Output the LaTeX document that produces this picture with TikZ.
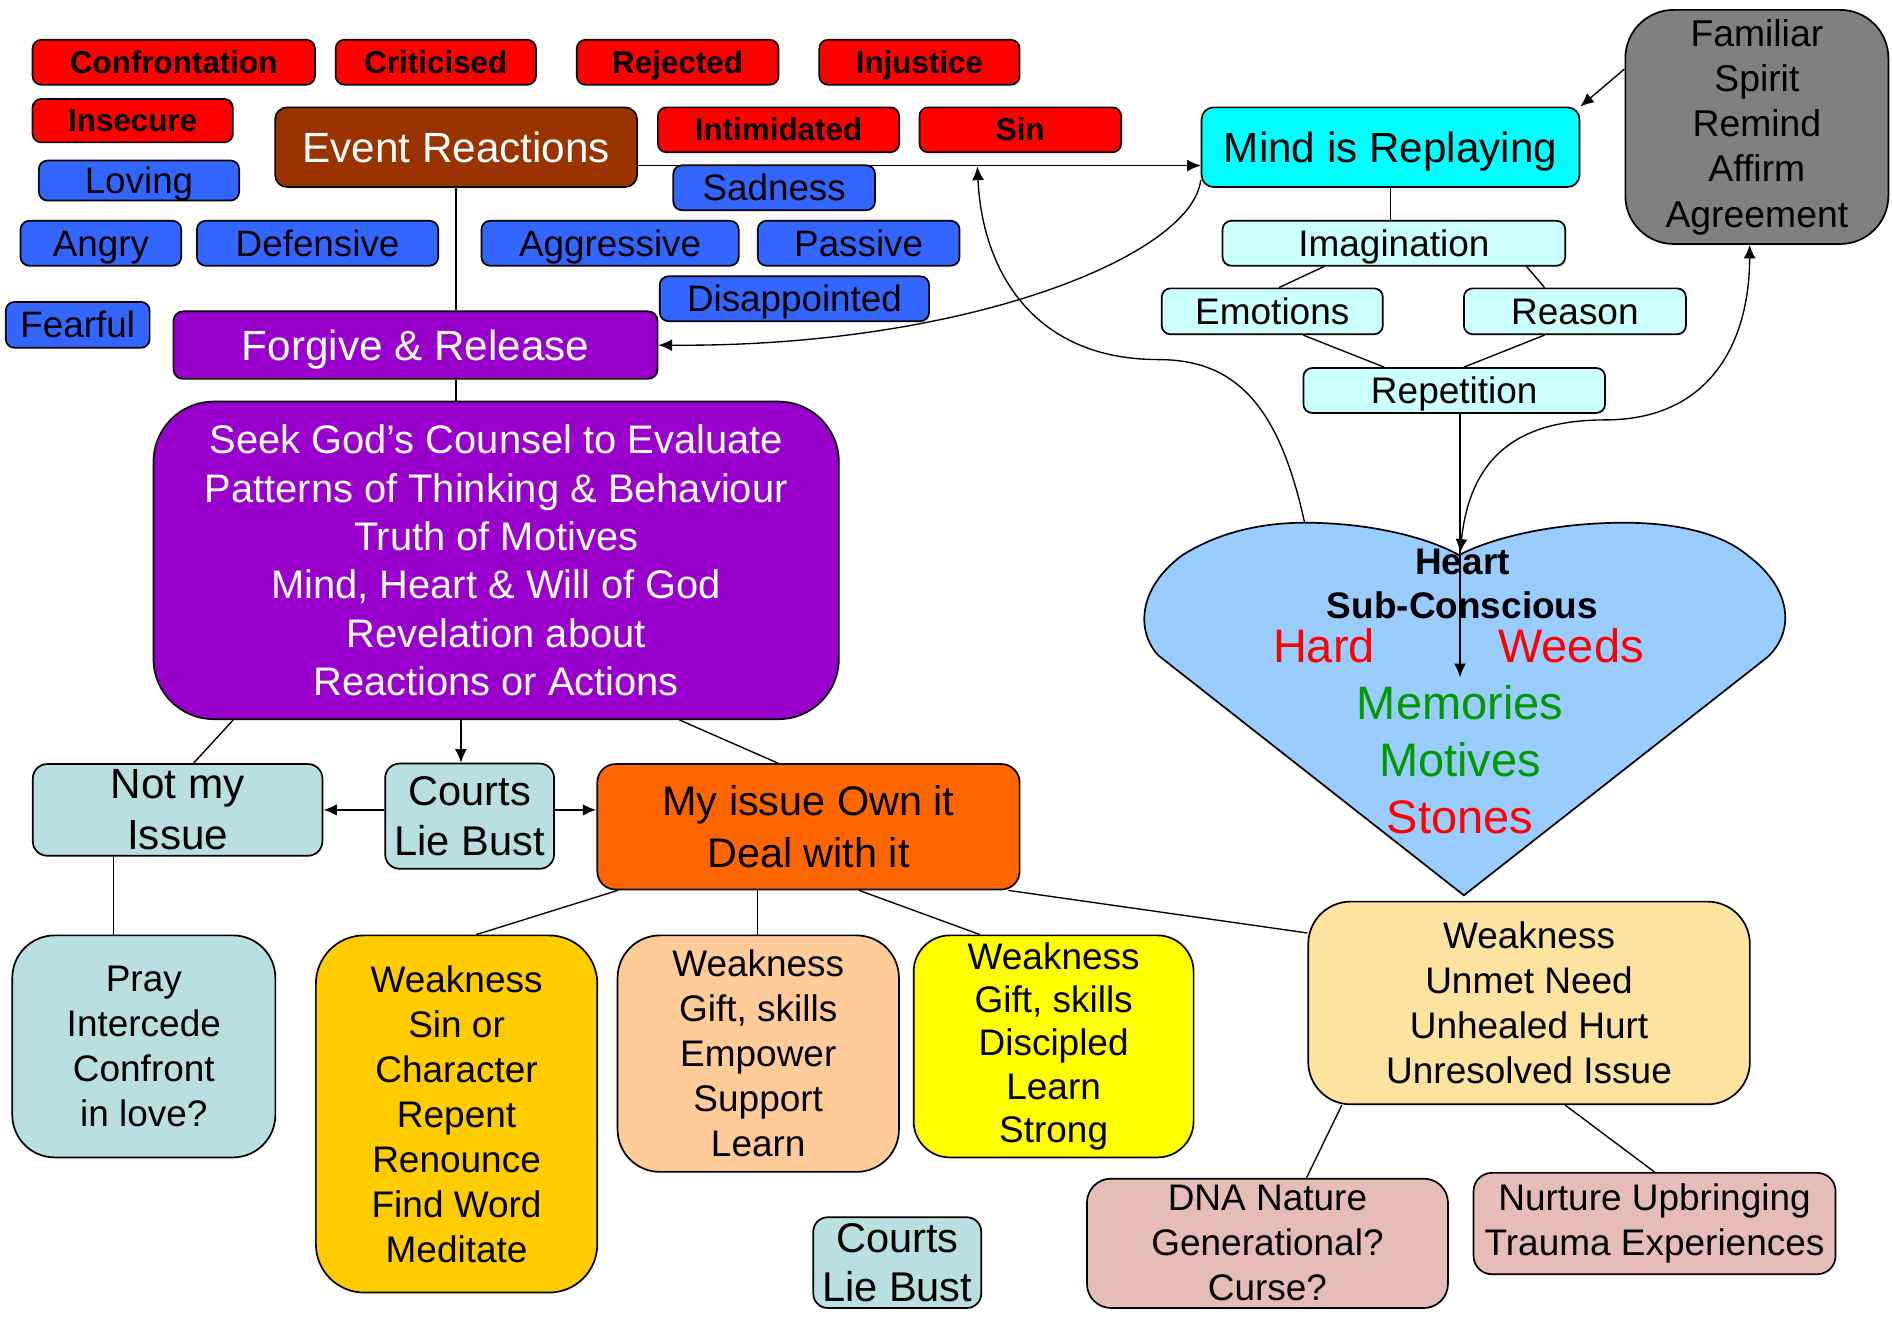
\documentclass[tikz,border=0pt]{standalone}
\usepackage{fontspec}
\setmainfont{Liberation Sans}
\usetikzlibrary{arrows.meta}
\definecolor{hurtred}{HTML}{FF0000}
\definecolor{moodblue}{HTML}{3366FF}
\definecolor{eventbrown}{HTML}{993300}
\definecolor{godpurple}{HTML}{9900CC}
\definecolor{mindcyan}{HTML}{00FFFF}
\definecolor{thoughtcyan}{HTML}{CCFFFF}
\definecolor{spiritgray}{HTML}{808080}
\definecolor{paleteal}{HTML}{B9DFE3}
\definecolor{ownorange}{HTML}{FF6600}
\definecolor{singold}{HTML}{FFCC00}
\definecolor{giftpeach}{HTML}{FFCC99}
\definecolor{strongyellow}{HTML}{FFFF00}
\definecolor{needtan}{HTML}{FCE3A0}
\definecolor{rootrose}{HTML}{E6BDB6}
\definecolor{heartblue}{HTML}{99CCFF}
\definecolor{growgreen}{HTML}{009900}

\begin{document}
\begin{tikzpicture}[>={Latex[length=8pt, width=7pt]}, line width=0.8pt,
            tag/.style ={draw, line width=1pt, rounded corners=0.18cm, inner sep=0pt, minimum height=0.93cm,
                         text height=19pt, text depth=3.5pt},
            hurt/.style ={tag, fill=hurtred, text height=16pt, text depth=3pt, font=\bfseries\fontsize{18.5}{22}\selectfont},
            mood/.style ={tag, fill=moodblue, font=\fontsize{21.7}{26}\selectfont},
            thought/.style ={tag, fill=thoughtcyan, font=\fontsize{21.8}{26}\selectfont},
            head/.style ={draw, line width=1pt, rounded corners=0.25cm, text=white, text height=22pt, text depth=4pt,
                          font=\fontsize{24.9}{30}\selectfont},
            card/.style ={draw, line width=1pt, align=center, inner sep=1pt},
            weak/.style ={card, font=\fontsize{21.8}{26.5}\selectfont}]

        \useasboundingbox (0,0) rectangle (39.2,-27.275);

        %%--------------------------reacciones-------------
        \node[hurt, minimum width=5.85cm] (confront) at (3.60, -1.29) {Confrontation};
        \node[hurt, minimum width=4.15cm] (critic) at (9.03, -1.29) {Criticised};
        \node[hurt, minimum width=4.18cm] (reject) at (14.04, -1.29) {Rejected};
        \node[hurt, minimum width=4.15cm] (injustice) at (19.05, -1.29) {Injustice};
        \node[hurt, minimum width=4.15cm, minimum height=0.9cm] (insecure) at (2.75, -2.50) {Insecure};
        \node[hurt, minimum width=5.0cm] (intimid) at (16.13, -2.69) {Intimidated};
        \node[hurt, minimum width=4.18cm] (sin) at (21.14, -2.69) {Sin};

        \node[mood, minimum width=4.15cm, minimum height=0.83cm] (loving) at (2.88, -3.74) {Loving};
        \node[mood, minimum width=4.18cm] (sadness) at (16.04, -3.89) {Sadness};
        \node[mood, minimum width=3.33cm] (angry) at (2.09, -5.04) {Angry};
        \node[mood, minimum width=5.0cm] (defensive) at (6.58, -5.04) {Defensive};
        \node[mood, minimum width=5.33cm] (aggressive) at (12.64, -5.04) {Aggressive};
        \node[mood, minimum width=4.18cm] (passive) at (17.79, -5.04) {Passive};
        \node[mood, minimum width=5.58cm] (disappoint) at (16.46, -6.19) {Disappointed};
        \node[mood, minimum width=2.98cm, minimum height=0.95cm] (fearful) at (1.61, -6.73) {Fearful};

        \node[head, fill=eventbrown, minimum width=7.5cm, minimum height=1.65cm] (event) at (9.45, -3.05) {Event Reactions};
        \node[head, fill=godpurple, rounded corners=0.2cm, minimum width=10.03cm, minimum height=1.4cm] (forgive) at (8.61, -7.15) {Forgive \& Release};

        %%--------------------------mente-------------
        \node[head, fill=mindcyan, text=black, minimum width=7.83cm, minimum height=1.65cm] (mind) at (28.81, -3.05) {Mind is Replaying};
        \node[card, fill=spiritgray, rounded corners=1cm, minimum width=5.45cm, minimum height=4.85cm,
              font=\fontsize{22}{26.7}\selectfont] (spirit) at (36.40, -2.63) {Familiar\\Spirit\\Remind\\Affirm\\Agreement};
        \node[thought, minimum width=7.1cm] (imag) at (28.88, -5.04) {Imagination};
        \node[thought, minimum width=4.58cm, minimum height=0.95cm] (emotions) at (26.36, -6.45) {Emotions};
        \node[thought, minimum width=4.6cm, minimum height=0.95cm] (reason) at (32.63, -6.45) {Reason};
        \node[thought, minimum width=6.25cm] (repetition) at (30.13, -8.09) {Repetition};

        %%--------------------------corazon-------------
        \path[draw, fill=heartblue, line width=1pt] (30.33, -18.55) -- (24.0, -13.58)
            .. controls (23.55, -13.1) and (23.55, -12.2) .. (24.5, -11.5)
            .. controls (25.3, -11.0) and (26.2, -10.83) .. (27.03, -10.83)
            .. controls (28.3, -10.83) and (29.5, -11.1) .. (30.23, -11.5)
            .. controls (31.0, -11.1) and (32.3, -10.83) .. (33.65, -10.83)
            .. controls (34.6, -10.83) and (35.6, -11.0) .. (36.2, -11.5)
            .. controls (37.2, -12.25) and (37.15, -13.15) .. (36.6, -13.63) -- cycle;
        \coordinate (hearttop) at (30.25, -11.45);
        \coordinate (heartlobe) at (27.03, -10.83);
        \coordinate (heartmid) at (30.25, -14.03);
        \coordinate (linehit) at (20.25, -3.45);

        \node[align=center, inner sep=0pt, font=\bfseries\fontsize{21.8}{26.3}\selectfont] (heart) at (30.30, -12.10) {Heart\\Sub-Conscious};
        \node[inner sep=0pt, text=hurtred, font=\fontsize{27.7}{33.4}\selectfont] (hard) at (27.43, -13.38) {Hard};
        \node[inner sep=0pt, text=hurtred, font=\fontsize{27.7}{33.4}\selectfont] (weeds) at (32.55, -13.38) {Weeds};
        \node[align=center, inner sep=0pt, font=\fontsize{27.7}{33.4}\selectfont] (memories) at (30.25, -15.74)
            {\textcolor{growgreen}{Memories}\\\textcolor{growgreen}{Motives}\\\textcolor{hurtred}{Stones}};

        %%--------------------------evaluar-------------
        \node[card, fill=godpurple, text=white, rounded corners=1.25cm, minimum width=14.2cm, minimum height=6.58cm,
              font=\fontsize{23.5}{28.5}\selectfont] (seek) at (10.28, -11.61)
            {Seek God’s Counsel to Evaluate\\Patterns of Thinking \& Behaviour\\Truth of Motives\\Mind, Heart \& Will of God\\Revelation about\\Reactions or Actions};

        \node[card, fill=paleteal, rounded corners=0.3cm, minimum width=6.0cm, minimum height=1.9cm,
              font=\fontsize{24.9}{29.9}\selectfont] (notmy) at (3.68, -16.78) {Not my\\Issue};
        \node[card, fill=paleteal, rounded corners=0.3cm, minimum width=3.5cm, minimum height=2.18cm,
              font=\fontsize{24.5}{29.2}\selectfont] (courts) at (9.73, -16.91) {Courts\\Lie Bust};
        \node[card, fill=ownorange, rounded corners=0.38cm, minimum width=8.75cm, minimum height=2.6cm,
              font=\fontsize{24.4}{30.6}\selectfont] (myissue) at (16.75, -17.13) {My issue Own it\\Deal with it};

        \node[weak, fill=paleteal, rounded corners=0.88cm, minimum width=5.45cm, minimum height=4.6cm] (pray) at (2.98, -21.68)
            {Pray\\Intercede\\Confront\\in love?};
        \node[weak, fill=singold, rounded corners=1cm, minimum width=5.83cm, minimum height=7.4cm] (sinbox) at (9.46, -23.08)
            {Weakness\\Sin or\\Character\\Repent\\Renounce\\Find Word\\Meditate};
        \node[weak, fill=giftpeach, rounded corners=0.88cm, minimum width=5.83cm, minimum height=4.9cm] (empower) at (15.71, -21.83)
            {Weakness\\Gift, skills\\Empower\\Support\\Learn};
        \node[weak, fill=strongyellow, rounded corners=0.75cm, minimum width=5.8cm, minimum height=4.6cm,
              font=\fontsize{21.8}{25.6}\selectfont] (disciple) at (21.83, -21.68)
            {Weakness\\Gift, skills\\Discipled\\Learn\\Strong};
        \node[weak, fill=needtan, rounded corners=0.88cm, minimum width=9.15cm, minimum height=4.2cm] (unmet) at (31.68, -20.78)
            {Weakness\\Unmet Need\\Unhealed Hurt\\Unresolved Issue};
        \node[weak, fill=rootrose, rounded corners=0.5cm, minimum width=7.48cm, minimum height=2.68cm] (dna) at (26.26, -25.76)
            {DNA Nature\\Generational?\\Curse?};
        \node[weak, fill=rootrose, rounded corners=0.38cm, minimum width=7.5cm, minimum height=2.1cm] (nurture) at (34.28, -25.35)
            {Nurture Upbringing\\Trauma Experiences};
        \node[card, fill=paleteal, rounded corners=0.3cm, inner sep=0pt, minimum width=3.48cm, minimum height=1.88cm,
              font=\fontsize{24.5}{29.2}\selectfont] (courts2) at (18.59, -26.16) {Courts\\Lie Bust};

        %%--------------------------caminos-------------
        \draw[->] ([yshift=-0.38cm]event.east) -- ([yshift=-0.38cm]mind.west);
        \draw[->] ([yshift=1.2cm]spirit.west) -- (mind.north east);
        \draw (mind.south) -- (mind.south |- imag.north);
        \draw ([xshift=-1.45cm]imag.south) -- ([xshift=0.14cm]emotions.north);
        \draw ([xshift=2.75cm]imag.south) -- ([xshift=-0.63cm]reason.north);
        \draw ([xshift=0.64cm]emotions.south) -- ([xshift=-1.45cm]repetition.north);
        \draw ([xshift=-0.63cm]reason.south) -- ([xshift=0.2cm]repetition.north);
        \draw[->] (heartmid |- repetition.south) -- (heartmid);
        \draw[<->] (hearttop) .. controls (30.45, -9.6) and (31.3, -8.7) .. (33.25, -8.7)
            .. controls (35.5, -8.7) and (36.25, -7.0) .. ([xshift=-0.15cm]spirit.south);
        \draw[->] (heartlobe) .. controls (26.5, -8.4) and (25.6, -7.45) .. (24.0, -7.45)
            .. controls (21.4, -7.45) and (20.35, -5.6) .. (linehit);
        \draw[->] ([yshift=-0.68cm]mind.west) .. controls (24.7, -5.3) and (20.0, -7.2) .. (forgive.east);

        \draw (event.south) -- (event.south |- forgive.north);
        \draw (forgive.south -| event.south) -- (event.south |- seek.north);
        \draw ([xshift=-5.45cm]seek.south) -- ([xshift=0.33cm]notmy.north);
        \draw[->] ([xshift=-0.73cm]seek.south) -- ([xshift=-0.73cm]seek.south |- courts.north);
        \draw ([xshift=3.8cm]seek.south) -- ([xshift=-0.63cm]myissue.north);
        \draw[->, line width=1.6pt] (courts.west |- notmy.east) -- (notmy.east);
        \draw[->, line width=1.6pt] (courts.east |- notmy.east) -- (myissue.west |- notmy.east);

        \draw ([xshift=-1.33cm]notmy.south) -- ([xshift=-1.33cm]notmy.south |- pray.north);
        \draw ([xshift=-3.95cm]myissue.south) -- ([xshift=0.41cm]sinbox.north);
        \draw ([xshift=-1.05cm]myissue.south) -- ([xshift=-1.05cm]myissue.south |- empower.north);
        \draw ([xshift=1.05cm]myissue.south) -- ([xshift=-1.53cm]disciple.north);
        \draw ([xshift=-0.25cm]myissue.south east) -- ([yshift=1.45cm]unmet.west);
        \draw ([xshift=-3.88cm]unmet.south) -- ([xshift=0.81cm]dna.north);
        \draw ([xshift=0.75cm]unmet.south) -- (nurture.north);

    \end{tikzpicture}
\end{document}
